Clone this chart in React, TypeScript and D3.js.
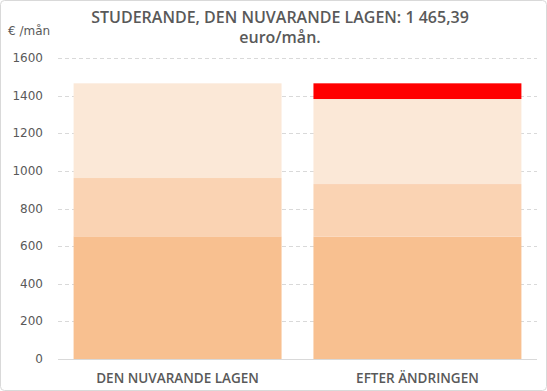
import * as d3 from 'd3'
import React, { useEffect, useRef } from 'react'

const categories = ['DEN NUVARANDE LAGEN', 'EFTER ÄNDRINGEN']
const seriesNames = ['base', 'middle', 'upper', 'cut']
const baseValues = [652, 650]
const middleValues = [310, 280]
const upperValues = [503.39, 452]
const cutValues = [0, 83.39]
const colors = ['#F8C090', '#FAD3B3', '#FBE8D7', '#FF0000']
const yTicks = [0, 200, 400, 600, 800, 1000, 1200, 1400, 1600]

const W = 547
const H = 391

export default function App() {
  const svgRef = useRef<SVGSVGElement | null>(null)

  useEffect(() => {
    const svg = d3.select(svgRef.current)
    svg.selectAll('*').remove()

    const rows = categories.map((c, i) => ({
      cat: c,
      base: baseValues[i],
      middle: middleValues[i],
      upper: upperValues[i],
      cut: cutValues[i],
    }))
    const stacked = d3.stack<any>().keys(seriesNames)(rows)

    const x = d3.scaleBand().domain(categories).range([58, 537]).paddingInner(0.133).paddingOuter(0.065)
    const y = d3.scaleLinear().domain([0, 1600]).range([359, 58])

    // chart border
    svg
      .append('rect')
      .attr('x', 0.5)
      .attr('y', 0.5)
      .attr('width', W - 1)
      .attr('height', H - 1)
      .attr('rx', 4)
      .attr('fill', '#fff')
      .attr('stroke', '#d9d9d9')

    // gridlines
    svg
      .append('g')
      .selectAll('line')
      .data(yTicks.filter((t) => t > 0))
      .enter()
      .append('line')
      .attr('x1', 58)
      .attr('x2', 537)
      .attr('y1', (d) => Math.round(y(d)) + 0.5)
      .attr('y2', (d) => Math.round(y(d)) + 0.5)
      .attr('stroke', '#d9d9d9')
      .attr('stroke-dasharray', '4,3')

    // bars
    svg
      .append('g')
      .selectAll('g')
      .data(stacked)
      .enter()
      .append('g')
      .attr('fill', (_, i) => colors[i])
      .selectAll('rect')
      .data((d) => d)
      .enter()
      .append('rect')
      .attr('x', (d: any) => x(d.data.cat)!)
      .attr('width', x.bandwidth())
      .attr('y', (d) => y(d[1]))
      .attr('height', (d) => y(d[0]) - y(d[1]))

    // baseline
    svg
      .append('line')
      .attr('x1', 58)
      .attr('x2', 537)
      .attr('y1', 359.5)
      .attr('y2', 359.5)
      .attr('stroke', '#d9d9d9')

    // y tick labels
    svg
      .append('g')
      .selectAll('text')
      .data(yTicks)
      .enter()
      .append('text')
      .attr('x', 43)
      .attr('y', (d) => y(d) + 4)
      .attr('text-anchor', 'end')
      .attr('font-family', 'DejaVu Sans')
      .attr('font-size', 12)
      .attr('fill', '#595959')
      .text((d) => d)

    // x labels
    svg
      .append('g')
      .selectAll('text')
      .data(categories)
      .enter()
      .append('text')
      .attr('x', (d) => x(d)! + x.bandwidth() / 2)
      .attr('y', 383)
      .attr('text-anchor', 'middle')
      .attr('font-family', 'Open Sans')
      .attr('font-weight', 600)
      .attr('font-size', 13.5)
      .attr('fill', '#595959')
      .text((d) => d)

    // unit label
    svg
      .append('text')
      .attr('x', 8)
      .attr('y', 35)
      .attr('font-family', 'DejaVu Sans')
      .attr('font-size', 12)
      .attr('fill', '#595959')
      .text('€ /mån')

    // title
    const title = svg
      .append('text')
      .attr('text-anchor', 'middle')
      .attr('font-family', 'Open Sans')
      .attr('font-weight', 600)
      .attr('font-size', 16)
      .attr('fill', '#595959')
    title.append('tspan').attr('x', 280).attr('y', 23).text('STUDERANDE, DEN NUVARANDE LAGEN: 1 465,39')
    title.append('tspan').attr('x', 280).attr('y', 43).text('euro/mån.')
  }, [])

  return (
    <svg
      ref={svgRef}
      width={W}
      height={H}
      style={{ position: 'absolute', left: 0, top: 0, display: 'block' }}
    ></svg>
  )
}
